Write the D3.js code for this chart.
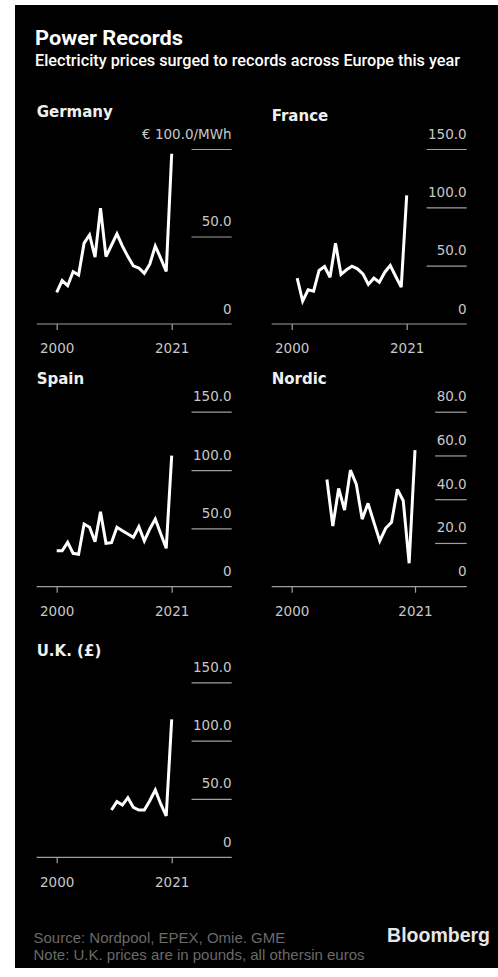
<!DOCTYPE html>
<html>
<head>
<meta charset="utf-8">
<script src="https://cdn.jsdelivr.net/npm/d3@7"></script>
<style>
  html, body { margin: 0; padding: 0; background: #fff; }
  svg { display: block; }
</style>
</head>
<body>
<svg id="chart" width="498" height="977"></svg>
<script>
// ---------- DATA ----------
const years = [2000, 2001, 2002, 2003, 2004, 2005, 2006, 2007, 2008, 2009, 2010,
               2011, 2012, 2013, 2014, 2015, 2016, 2017, 2018, 2019, 2020, 2021];

const germany = [18.1, 24.8, 21.9, 29.9, 28.0, 46.2, 50.9, 38.2, 66.2, 38.5, 45.0,
                 51.5, 44.5, 38.5, 33.2, 32.0, 29.0, 34.2, 44.6, 37.5, 30.0, 97.3];
const france  = [null, 39.3, 19.6, 29.3, 28.1, 45.9, 49.3, 40.1, 69.3, 42.5, 46.5,
                 49.6, 47.3, 43.0, 33.9, 39.3, 35.8, 44.4, 50.2, 40.7, 31.6, 110.2];
const spain   = [30.8, 30.8, 38.0, 28.6, 27.8, 53.7, 50.9, 38.6, 64.3, 37.2, 37.7,
                 50.9, 48.0, 45.2, 42.3, 51.4, 39.2, 49.5, 58.0, 45.4, 32.9, 112.3];
const nordic  = [null, null, null, null, null, null, 49.0, 27.7, 44.9, 35.0, 53.3,
                 46.9, 30.9, 38.1, 29.4, 20.9, 26.7, 29.4, 44.5, 39.3, 10.7, 62.4];
const uk      = [null, null, null, null, null, null, null, null, null, null, 40.5,
                 47.7, 44.8, 51.1, 42.8, 40.5, 40.5, 48.5, 57.7, 45.7, 35.4, 118.2];

const xTickYears = [2000, 2021];
const germanyTicks = [0, 50, 100];
const germanyTickLabels = ["0", "50.0", "€ 100.0/MWh"];
const euroTicks = [0, 50, 100, 150];
const euroTickLabels = ["0", "50.0", "100.0", "150.0"];
const nordicTicks = [0, 20, 40, 60, 80];
const nordicTickLabels = ["0", "20.0", "40.0", "60.0", "80.0"];

const titleText = "Power Records";
const subtitleText = "Electricity prices surged to records across Europe this year";
const sourceText = "Source: Nordpool, EPEX, Omie. GME";
const noteText = "Note: U.K. prices are in pounds, all othersin euros";

// ---------- LAYOUT ----------
const colX = [36.7, 271.7];
const rowAxisY = [324, 586.7, 857.3];
const plotW = 195, plotH = 175;

const panels = [
  { name: "Germany", values: germany, col: 0, row: 0, ticks: germanyTicks, labels: germanyTickLabels, titleY: 117, x2021: 135 },
  { name: "France",  values: france,  col: 1, row: 0, ticks: euroTicks,   labels: euroTickLabels,   titleY: 121, x2021: 135 },
  { name: "Spain",   values: spain,   col: 0, row: 1, ticks: euroTicks,   labels: euroTickLabels,   titleY: 384, x2021: 135 },
  { name: "Nordic",  values: nordic,  col: 1, row: 1, ticks: nordicTicks, labels: nordicTickLabels, titleY: 384, x2021: 143.3 },
  { name: "U.K. (£)", values: uk,     col: 0, row: 2, ticks: euroTicks,   labels: euroTickLabels,   titleY: 656, x2021: 135 }
];

const svg = d3.select("#chart");

// background
svg.append("rect").attr("x", 15).attr("y", 5).attr("width", 483).attr("height", 963).attr("fill", "#000");

// title + subtitle
svg.append("text").attr("x", 35).attr("y", 45)
  .attr("font-family", "Roboto, 'Liberation Sans', Arial, sans-serif")
  .attr("font-weight", 700).attr("font-size", 19.5).attr("fill", "#fff")
  .attr("textLength", 148).attr("lengthAdjust", "spacingAndGlyphs")
  .text(titleText);
svg.append("text").attr("x", 35).attr("y", 65.5)
  .attr("font-family", "Roboto, 'Liberation Sans', Arial, sans-serif")
  .attr("font-weight", 500).attr("font-size", 16).attr("fill", "#fff")
  .attr("textLength", 425).attr("lengthAdjust", "spacingAndGlyphs")
  .text(subtitleText);

const tickFont = "'DejaVu Sans', Verdana, sans-serif";
const tickColor = "#c8c8c8";
const gridColor = "#a0a0a0";

// measuring helper
const measure = svg.append("text").attr("font-family", tickFont).attr("font-size", 13.5).attr("opacity", 0);
function textW(s) { measure.text(s); return measure.node().getComputedTextLength(); }

panels.forEach(p => {
  const left = colX[p.col];
  const axisY = rowAxisY[p.row];
  const right = left + plotW;
  const g = svg.append("g");

  const x = d3.scaleLinear().domain([2000, 2021]).range([left + 20, left + p.x2021]);
  const y = d3.scaleLinear().domain([0, d3.max(p.ticks)]).range([axisY, axisY - plotH]);

  // title
  g.append("text").attr("x", left).attr("y", p.titleY)
    .attr("font-family", "'DejaVu Sans', Verdana, sans-serif")
    .attr("font-weight", 700).attr("font-size", 15).attr("fill", "#f0f0f0")
    .text(p.name);

  // grid line width = widest numeric label
  const gridW = d3.max(p.ticks, t => textW(t === 0 ? "0" : t.toFixed(1))) + 1.5;

  // y gridlines (short, right side) and labels
  const yAxis = d3.axisRight(y).tickValues(p.ticks.filter(t => t > 0))
    .tickSize(gridW).tickFormat("");
  const ya = g.append("g").attr("transform", `translate(${right - gridW},0)`).call(yAxis);
  ya.select(".domain").remove();
  ya.selectAll(".tick line").attr("stroke", gridColor).attr("stroke-width", 1.2);

  g.selectAll("text.ylab").data(p.ticks).enter().append("text")
    .attr("class", "ylab")
    .attr("x", right).attr("y", (d) => y(d) - 10.5)
    .attr("text-anchor", "end")
    .attr("font-family", tickFont).attr("font-size", 13.5).attr("fill", tickColor)
    .text((d, i) => p.labels[i]);

  // x axis
  const xAxis = d3.axisBottom(x).tickValues(xTickYears).tickSize(6).tickFormat(d3.format("d"));
  const xa = g.append("g").attr("transform", `translate(0,${axisY})`).call(xAxis);
  xa.select(".domain").remove();
  xa.selectAll(".tick line").attr("stroke", gridColor).attr("stroke-width", 1.2);
  xa.selectAll(".tick text").attr("font-family", tickFont).attr("font-size", 13.5)
    .attr("fill", tickColor).attr("dy", 0).attr("y", 29.3);
  g.append("line").attr("x1", left).attr("x2", right).attr("y1", axisY).attr("y2", axisY)
    .attr("stroke", gridColor).attr("stroke-width", 1.2);

  // line
  const pts = years.map((yr, i) => ({ yr, v: p.values[i] })).filter(d => d.v !== null);
  const line = d3.line().x(d => x(d.yr)).y(d => y(d.v));
  g.append("path").datum(pts).attr("d", line)
    .attr("fill", "none").attr("stroke", "#fff").attr("stroke-width", 3)
    .attr("stroke-linejoin", "miter").attr("stroke-miterlimit", 3);
});

// footer
svg.append("text").attr("x", 33.5).attr("y", 942.5)
  .attr("font-family", "'Liberation Sans', Arial, sans-serif").attr("font-size", 15)
  .attr("fill", "#6a6a6a").text(sourceText);
svg.append("text").attr("x", 33.5).attr("y", 959.5)
  .attr("font-family", "'Liberation Sans', Arial, sans-serif").attr("font-size", 15)
  .attr("fill", "#6a6a6a").text(noteText);
svg.append("text").attr("x", 490).attr("y", 942)
  .attr("text-anchor", "end")
  .attr("font-family", "'Liberation Sans', Arial, sans-serif").attr("font-weight", 700)
  .attr("font-size", 19.5).attr("fill", "#e6e6e6").text("Bloomberg");
</script>
</body>
</html>
